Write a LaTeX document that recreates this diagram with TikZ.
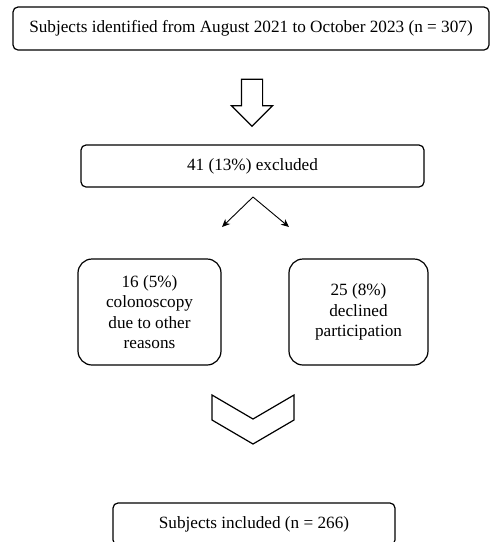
\documentclass[tikz,border=0pt]{standalone}
\usepackage{fontspec}
\setmainfont{Liberation Serif}
\usetikzlibrary{positioning,arrows.meta,shapes.arrows}
\tikzset{%
  box/.style={draw, rectangle, rounded corners=5pt, line width=1.2pt, align=center, font=\fontsize{17.2}{20.5}\selectfont},% flow box
  roundbox/.style={box, rounded corners=14pt},% side boxes
  split/.style={line width=0.9pt, -{Stealth[length=8pt,width=7pt]}},% thin split arrows
  bigarrow/.style={draw, shape=single arrow, single arrow head extend=10pt,
    minimum height=47pt, inner xsep=0pt, inner ysep=10pt, line width=1.2pt}% hollow down arrow
}
\begin{document}
\begin{tikzpicture}[x=1pt,y=-1pt]
\useasboundingbox (0,0) rectangle (490,542);

\node[box, minimum width=476pt, minimum height=43pt] (ident) at (251,28.5) {Subjects identified from August 2021 to October 2023 (n = 307)};
\node[bigarrow, rotate=-90] (down) at (252,97.5) {};
\node[box, minimum width=343pt, minimum height=42pt] (excl) at (252.5,166) {41 (13\%) excluded};

\coordinate (fork) at (253,197);
\coordinate (forkl) at (222,227);
\coordinate (forkr) at (289,227);
\draw[split] (fork) -- (forkl);
\draw[split] (fork) -- (forkr);

\node[roundbox, minimum width=143pt, minimum height=106pt] (colon) at (149.5,312) {16 (5\%)\\colonoscopy\\due to other\\reasons};
\node[roundbox, minimum width=139pt, minimum height=106pt] (decl) at (358.5,312) {25 (8\%)\\declined\\participation};

% chevron
\draw[line width=1.2pt, line join=miter] (212,395) -- (253,419) -- (294,395) -- (294,420) -- (253,444) -- (212,420) -- cycle;

\node[box, minimum width=282pt, minimum height=42pt] (incl) at (254,524) {Subjects included (n = 266)};

\end{tikzpicture}
\end{document}
